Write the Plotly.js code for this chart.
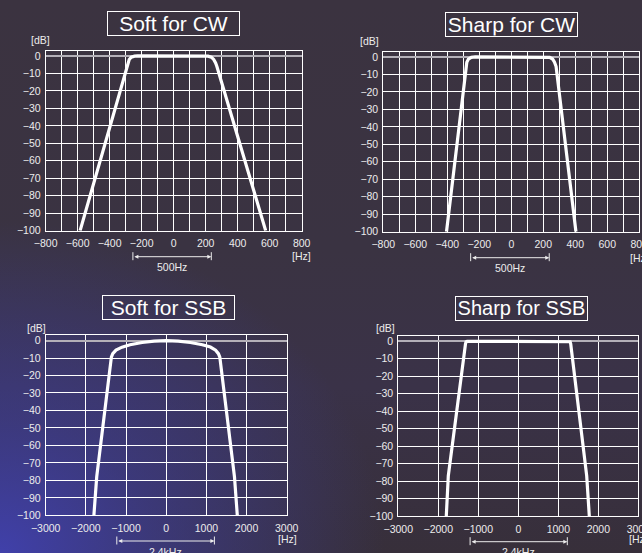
<!DOCTYPE html>
<html>
<head>
<meta charset="utf-8">
<script src="https://cdn.plot.ly/plotly-3.0.1.min.js"></script>
<style>
html,body{margin:0;padding:0;width:642px;height:553px;overflow:hidden;}
body{background:
  radial-gradient(ellipse 60% 60% at 0% 100%, rgba(64,64,170,1) 0%, rgba(62,62,160,0.6) 40%, rgba(62,62,160,0) 100%),
  linear-gradient(to bottom, #3b3340 0%, #3a3342 45%, #3a3248 70%, #372f3a 100%);}
#chart{width:642px;height:553px;}
</style>
</head>
<body>
<div id="chart"></div>
<script>
// ---- data ----
const titles = ["Soft for CW", "Sharp for CW", "Soft for SSB", "Sharp for SSB"];

const softCwHz = [-585, -292, -287, -278, -265, -245, -225, 195, 215, 235, 250, 262, 270, 575];
const softCwDb = [-100, -7, -4.2, -2, -0.7, -0.1, 0, 0, -0.1, -0.7, -2, -4, -6, -100];

const sharpCwHz = [-405, -283, -278, -268, -250, -225, 215, 240, 258, 270, 280, 404];
const sharpCwDb = [-100, -5.5, -3, -1.2, -0.2, 0, 0, -0.2, -1.2, -3, -5.5, -100];

const softSsbHz = [-1800, -1730, -1365, -1330, -1250, -1100, -900, -600, -300, 0, 300, 600, 900, 1100, 1230, 1300, 1335, 1700, 1770];
const softSsbDb = [-100, -78, -9.5, -7.5, -5.5, -3.8, -2.4, -1.1, -0.3, 0, -0.3, -1.1, -2.4, -3.7, -5.5, -7.5, -9.5, -78, -100];

const sharpSsbHz = [-1800, -1750, -1320, -1305, -1280, 1270, 1295, 1310, 1710, 1775];
const sharpSsbDb = [-100, -77, -1.5, -0.3, 0, 0, -0.3, -1.5, -77, -100];

const cwTicks = [-800, -600, -400, -200, 0, 200, 400, 600, 800];
const ssbTicks = [-3000, -2000, -1000, 0, 1000, 2000, 3000];
const dbTicks = [0, -10, -20, -30, -40, -50, -60, -70, -80, -90, -100];

const bandLabels = ["500Hz", "500Hz", "2.4kHz", "2.4kHz"];
const bandEdges = [[-255, 235], [-254, 237], [-1230, 1200], [-1205, 1225]];

// ---- layout geometry (pixels) ----
const W = 642, H = 553;
const boxes = [ // left, right, top, bottom in px
  [45.7, 301.7, 50.7, 230.7],
  [383.3, 639.3, 51.7, 231.7],
  [45.7, 286.7, 335.3, 515.3],
  [398.3, 638.3, 336, 516]
];
const px = v => v / W, py = v => 1 - v / H;

const series = [
  [softCwHz, softCwDb], [sharpCwHz, sharpCwDb],
  [softSsbHz, softSsbDb], [sharpSsbHz, sharpSsbDb]
];
const tickSets = [cwTicks, cwTicks, ssbTicks, ssbTicks];
const minorStep = [100, 100, 1000, 1000];

const fontFam = "Liberation Sans, Arial, sans-serif";
const tickFont = {family: fontFam, size: 10.5, color: "#ececec"};

const traces = series.map((s, i) => ({
  x: s[0], y: s[1], type: "scatter", mode: "lines",
  xaxis: i === 0 ? "x" : "x" + (i + 1),
  yaxis: i === 0 ? "y" : "y" + (i + 1),
  line: {color: "#ffffff", width: 3.2},
  hoverinfo: "skip", showlegend: false
}));

const layout = {
  width: W, height: H,
  margin: {l: 0, r: 0, t: 0, b: 0},
  paper_bgcolor: "rgba(0,0,0,0)",
  plot_bgcolor: "rgba(0,0,0,0)",
  showlegend: false,
  annotations: [],
  shapes: []
};

const titleBoxes = [ // cx, cy, font size
  [173.3, 24, 21],
  [511.3, 24.2, 21],
  [169, 307.8, 21],
  [521.7, 308.5, 20]
];
const dbPos = [[40.7, 40], [370, 41], [36.7, 327.7], [385.7, 328.3]];
const hzPos = [[301.7, 255.5], [639.3, 258], [287.3, 538.5], [638.3, 539]];
const bandY = [[256.7, 266.7], [257.7, 268], [541, 551.5], [541.7, 552]];

boxes.forEach((b, i) => {
  const n = i === 0 ? "" : String(i + 1);
  layout["xaxis" + n] = {
    domain: [px(b[0]), px(b[1])],
    anchor: "y" + n,
    range: [tickSets[i][0], tickSets[i][tickSets[i].length - 1]],
    tickvals: tickSets[i],
    ticktext: tickSets[i].map(v => v < 0 ? "\u2212" + Math.abs(v) : String(v)),
    ticks: "outside", ticklen: 3, tickcolor: "rgba(0,0,0,0)",
    ticklabeloverflow: "allow",
    showgrid: true, gridcolor: "#ffffff", gridwidth: 1,
    minor: {dtick: minorStep[i], tick0: 0, showgrid: true, gridcolor: "#ffffff", gridwidth: 1, ticks: ""},
    zeroline: false,
    showline: true, mirror: true, linecolor: "#ffffff", linewidth: 1,
    tickfont: tickFont, fixedrange: true
  };
  layout["yaxis" + n] = {
    domain: [py(b[3]), py(b[2])],
    anchor: "x" + n,
    range: [-100, 3],
    tickvals: dbTicks,
    ticktext: dbTicks.map(v => v < 0 ? "\u2212" + Math.abs(v) : String(v)),
    ticks: "outside", ticklen: 2, tickcolor: "rgba(0,0,0,0)",
    ticklabeloverflow: "allow",
    showgrid: true, gridcolor: "#ffffff", gridwidth: 1,
    zeroline: true, zerolinecolor: "#b4b0b8", zerolinewidth: 2,
    showline: true, mirror: true, linecolor: "#ffffff", linewidth: 1,
    tickfont: tickFont, fixedrange: true
  };

  const t = titleBoxes[i];
  layout.annotations.push({
    text: titles[i], xref: "paper", yref: "paper",
    x: px(t[0]), y: py(t[1]), xanchor: "center", yanchor: "middle",
    showarrow: false, width: 131, height: 22.5, align: "center", valign: "middle",
    bordercolor: "#ffffff", borderwidth: 1, borderpad: 0,
    font: {family: fontFam, size: t[2], color: "#ffffff"}
  });
  layout.annotations.push({
    text: "[dB]", xref: "paper", yref: "paper",
    x: px(dbPos[i][0]), y: py(dbPos[i][1]), xanchor: "center", yanchor: "middle",
    showarrow: false, font: {family: fontFam, size: 10.5, color: "#ececec"}
  });
  layout.annotations.push({
    text: "[Hz]", xref: "paper", yref: "paper",
    x: px(hzPos[i][0]), y: py(hzPos[i][1]), xanchor: "center", yanchor: "middle",
    showarrow: false, font: {family: fontFam, size: 10.5, color: "#ececec"}
  });
  const xr = "x" + n;
  const e = bandEdges[i];
  layout.annotations.push({
    text: bandLabels[i], xref: xr, yref: "paper",
    x: (e[0] + e[1]) / 2, y: py(bandY[i][1]), xanchor: "center", yanchor: "middle",
    showarrow: false, font: {family: fontFam, size: 10.5, color: "#ececec"}
  });
  layout.annotations.push({
    text: "", xref: xr, yref: "paper",
    x: e[1], y: py(bandY[i][0]),
    axref: xr, ax: e[0], ayref: "pixel", ay: 0,
    showarrow: true, arrowside: "end+start", arrowhead: 2, arrowsize: 0.8,
    arrowwidth: 1, arrowcolor: "#ececec", standoff: 0, startstandoff: 0
  });
  e.forEach(v => {
    layout.shapes.push({
      type: "line", xref: xr, yref: "paper",
      x0: v, x1: v, y0: py(bandY[i][0] - 4.5), y1: py(bandY[i][0] + 3.5),
      line: {color: "#ececec", width: 1}
    });
  });
});

Plotly.newPlot("chart", traces, layout, {staticPlot: true, displayModeBar: false});
</script>
</body>
</html>
